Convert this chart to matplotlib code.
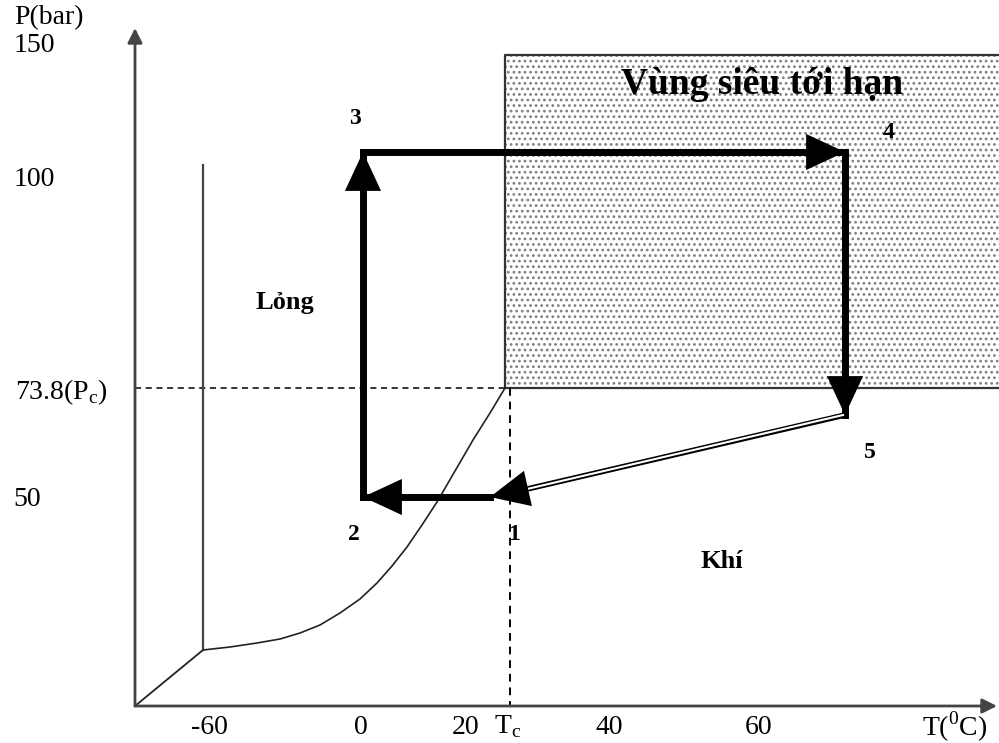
import matplotlib.pyplot as plt
from matplotlib.patches import Rectangle

plt.rcParams['font.family'] = ['Liberation Serif', 'DejaVu Serif']

# Schematic diagram: coordinates are positions on the sketch (x to the right, y downward)
origin = (135, 706)
triple = (203, 650)
critical = (505, 388)

# melting line (vertical) top end
melt_top_y = 165

# vaporisation curve points
curve_x = [203, 230, 257, 280, 300, 320, 340, 360, 377, 392, 407, 422, 437, 455, 473, 490, 505]
curve_y = [650, 647, 643, 639, 633, 625, 613, 599, 583, 566, 547, 525, 502, 471, 440, 413, 388]

# cycle points 1..5
cycle_x = [490, 363, 363, 845, 845]
cycle_y = [497, 497, 152, 152, 415]
cycle_labels = ["1", "2", "3", "4", "5"]
label_x = [514, 354, 355, 889, 870]
label_y = [535, 535, 118, 133, 452]

# axis tick labels
xtick_pos = [209, 361, 466, 508, 609, 759, 955]
xtick_lab = ["-60", "0", "20", "T$_\\mathregular{c}$", "40", "60", "T($^\\mathregular{0}$C)"]
ytick_pos = [18, 46, 180, 392, 499]
ytick_lab = ["P(bar)", "150", "100", "73.8(P$_\\mathregular{c}$)", "50"]
ytick_x = [49, 34, 34, 61, 27]

fig = plt.figure(figsize=(9.99, 7.43), dpi=100)
ax = fig.add_axes([0, 0, 1, 1])
ax.set_xlim(0, 999)
ax.set_ylim(743, 0)
ax.axis('off')

# supercritical region
plt.rcParams['hatch.linewidth'] = 1.2
ax.add_patch(Rectangle((critical[0], 55), 520, critical[1] - 55, facecolor='white',
                       edgecolor='#808080', hatch='...', lw=0, zorder=1))
ax.plot([1005, critical[0], critical[0], 1005], [55, 55, critical[1], critical[1]],
        color='#333333', lw=1.6, zorder=2)

# axes with arrows
ax.annotate('', xy=(origin[0], 28), xytext=origin,
            arrowprops=dict(arrowstyle='-|>', color='#444444', lw=2, mutation_scale=22,
                            shrinkA=0, shrinkB=0), zorder=3)
ax.annotate('', xy=(997, origin[1]), xytext=origin,
            arrowprops=dict(arrowstyle='-|>', color='#444444', lw=2, mutation_scale=22,
                            shrinkA=0, shrinkB=0), zorder=3)

# dashed critical lines
ax.plot([origin[0], critical[0]], [critical[1], critical[1]], ls=(0, (4, 3)), color='black', lw=1.1)
ax.plot([510, 510], [critical[1], origin[1]], ls=(0, (4, 3)), color='black', lw=1.4)

# phase boundaries
ax.plot([origin[0], triple[0]], [origin[1], triple[1]], color='#222222', lw=1.3)
ax.plot([triple[0], triple[0]], [triple[1], melt_top_y], color='#444444', lw=1.6)
ax.plot(curve_x, curve_y, color='#222222', lw=1.2)

head = dict(arrowstyle='-|>,head_length=1.4,head_width=0.65', color='black',
            lw=0, mutation_scale=20, shrinkA=0, shrinkB=0)

# cycle arrows (thick)
for i in range(4):
    x0, y0 = cycle_x[i], cycle_y[i]
    x1, y1 = cycle_x[i + 1], cycle_y[i + 1]
    ax.plot([x0, x1], [y0, y1], color='black', lw=5, solid_capstyle='projecting', zorder=4)
    ax.annotate('', xy=(x1, y1), xytext=(x1 - (x1 - x0) * 0.1, y1 - (y1 - y0) * 0.1),
                arrowprops=head, zorder=5)

# 5 -> 1 (double line)
ax.plot([cycle_x[4], cycle_x[0] + 20], [cycle_y[4], cycle_y[0] - 4], color='black', lw=4, zorder=4)
ax.plot([cycle_x[4] - 2, cycle_x[0] + 20], [cycle_y[4], cycle_y[0] - 4], color='white', lw=1.5, zorder=4)
ax.annotate('', xy=(cycle_x[0], cycle_y[0]), xytext=(cycle_x[0] + 40, cycle_y[0] - 9),
            arrowprops=head, zorder=5)

# point labels
for lab, lx, ly in zip(cycle_labels, label_x, label_y):
    ax.text(lx, ly, lab, fontsize=17, fontweight='bold', ha='center', va='center', zorder=6)

# region labels
ax.text(285, 303, "Lỏng", fontsize=19, fontweight='bold', ha='center', va='center')
ax.text(722, 562, "Khí", fontsize=19, fontweight='bold', ha='center', va='center')
ax.text(762, 84, "Vùng siêu tới hạn", fontsize=27, fontweight='bold', ha='center', va='center',
        zorder=6)

# tick labels
for p, lab in zip(xtick_pos, xtick_lab):
    ax.text(p, 727, lab, fontsize=20, ha='center', va='center')
for p, lab, tx in zip(ytick_pos, ytick_lab, ytick_x):
    ax.text(tx, p, lab, fontsize=20, ha='center', va='center')

fig.savefig('out.png', dpi=100)
